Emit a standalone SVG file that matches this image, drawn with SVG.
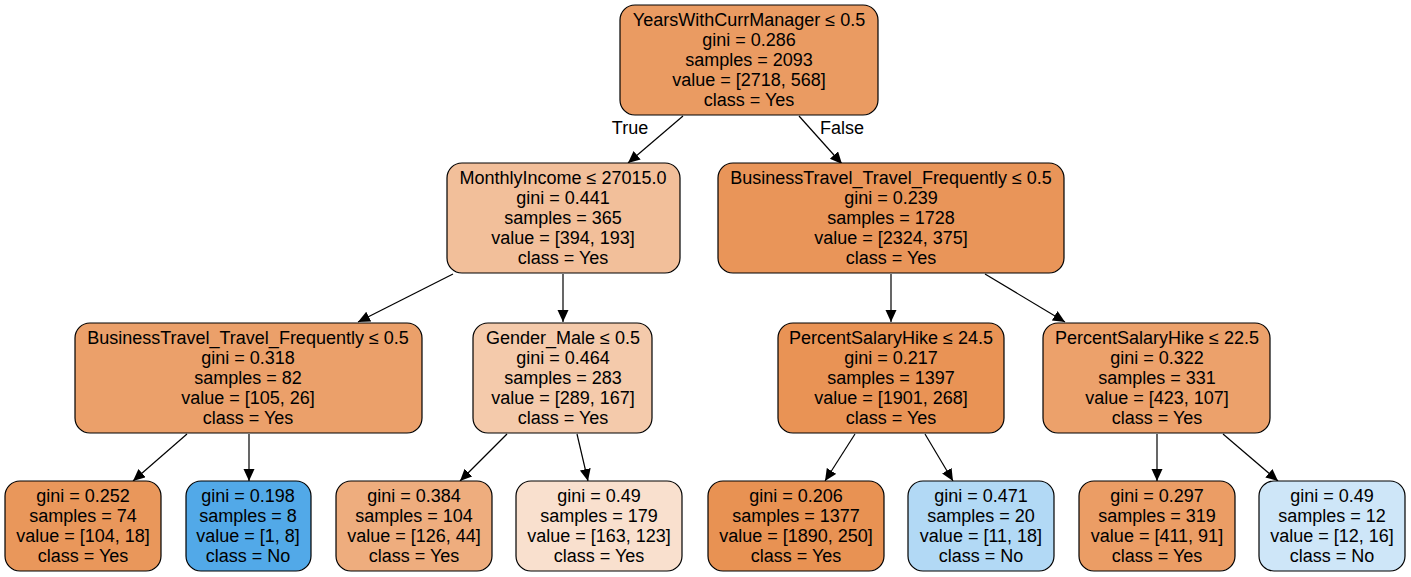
<svg xmlns="http://www.w3.org/2000/svg" width="1411" height="577" viewBox="0 0 1411 577">
<style>
.n rect{stroke:#000;stroke-width:1.2}
text{font-family:"Liberation Sans",Arial,sans-serif;font-size:18px;fill:#000;text-anchor:middle}
.e line{stroke:#000;stroke-width:1.2}
</style>
<defs>
<marker id="ah" markerUnits="userSpaceOnUse" markerWidth="14" markerHeight="12" refX="12" refY="5.5" orient="auto">
<path d="M0,0 L12,5.5 L0,11 Z" fill="#000"/>
</marker>
</defs>
<rect width="1411" height="577" fill="#fff"/>
<g id="edges" class="e">
<line x1="683" y1="116" x2="628" y2="163" marker-end="url(#ah)"/>
<line x1="799" y1="116" x2="842" y2="164" marker-end="url(#ah)"/>
<line x1="453" y1="274" x2="358" y2="322" marker-end="url(#ah)"/>
<line x1="563" y1="274" x2="563" y2="322" marker-end="url(#ah)"/>
<line x1="891" y1="274" x2="891" y2="322" marker-end="url(#ah)"/>
<line x1="985" y1="274" x2="1065" y2="322" marker-end="url(#ah)"/>
<line x1="187" y1="434" x2="133" y2="481" marker-end="url(#ah)"/>
<line x1="249" y1="434" x2="249" y2="481" marker-end="url(#ah)"/>
<line x1="507" y1="434" x2="460" y2="481" marker-end="url(#ah)"/>
<line x1="577" y1="434" x2="588" y2="481" marker-end="url(#ah)"/>
<line x1="855" y1="434" x2="825" y2="481" marker-end="url(#ah)"/>
<line x1="925" y1="434" x2="953" y2="481" marker-end="url(#ah)"/>
<line x1="1157" y1="434" x2="1157" y2="481" marker-end="url(#ah)"/>
<line x1="1223" y1="434" x2="1278" y2="481" marker-end="url(#ah)"/>
<text x="630" y="134">True</text>
<text x="842" y="134">False</text>
</g>
<g id="n0" class="n"><rect x="620" y="5" width="258" height="110" rx="15" fill="#ea9b62"/>
<text x="749" y="26">YearsWithCurrManager ≤ 0.5</text><text x="749" y="46">gini = 0.286</text><text x="749" y="66">samples = 2093</text><text x="749" y="86">value = [2718, 568]</text><text x="749" y="106">class = Yes</text></g>
<g id="n1" class="n"><rect x="447" y="163" width="233" height="110" rx="15" fill="#f2bf9a"/>
<text x="563" y="184">MonthlyIncome ≤ 27015.0</text><text x="563" y="204">gini = 0.441</text><text x="563" y="224">samples = 365</text><text x="563" y="244">value = [394, 193]</text><text x="563" y="264">class = Yes</text></g>
<g id="n8" class="n"><rect x="718" y="163" width="346" height="110" rx="15" fill="#e99559"/>
<text x="891" y="184">BusinessTravel_Travel_Frequently ≤ 0.5</text><text x="891" y="204">gini = 0.239</text><text x="891" y="224">samples = 1728</text><text x="891" y="244">value = [2324, 375]</text><text x="891" y="264">class = Yes</text></g>
<g id="n2" class="n"><rect x="75" y="323" width="347" height="110" rx="15" fill="#eba06a"/>
<text x="248" y="344">BusinessTravel_Travel_Frequently ≤ 0.5</text><text x="248" y="364">gini = 0.318</text><text x="248" y="384">samples = 82</text><text x="248" y="404">value = [105, 26]</text><text x="248" y="424">class = Yes</text></g>
<g id="n5" class="n"><rect x="473" y="323" width="179" height="110" rx="15" fill="#f4caab"/>
<text x="563" y="344">Gender_Male ≤ 0.5</text><text x="563" y="364">gini = 0.464</text><text x="563" y="384">samples = 283</text><text x="563" y="404">value = [289, 167]</text><text x="563" y="424">class = Yes</text></g>
<g id="n9" class="n"><rect x="778" y="323" width="226" height="110" rx="15" fill="#e99355"/>
<text x="891" y="344">PercentSalaryHike ≤ 24.5</text><text x="891" y="364">gini = 0.217</text><text x="891" y="384">samples = 1397</text><text x="891" y="404">value = [1901, 268]</text><text x="891" y="424">class = Yes</text></g>
<g id="n12" class="n"><rect x="1043" y="323" width="227" height="110" rx="15" fill="#eca16b"/>
<text x="1157" y="344">PercentSalaryHike ≤ 22.5</text><text x="1157" y="364">gini = 0.322</text><text x="1157" y="384">samples = 331</text><text x="1157" y="404">value = [423, 107]</text><text x="1157" y="424">class = Yes</text></g>
<g id="n3" class="n"><rect x="5" y="481" width="156" height="90" rx="15" fill="#e9975b"/>
<text x="83" y="502">gini = 0.252</text><text x="83" y="522">samples = 74</text><text x="83" y="542">value = [104, 18]</text><text x="83" y="562">class = Yes</text></g>
<g id="n4" class="n"><rect x="186" y="481" width="125" height="90" rx="15" fill="#52a9e8"/>
<text x="248" y="502">gini = 0.198</text><text x="248" y="522">samples = 8</text><text x="248" y="542">value = [1, 8]</text><text x="248" y="562">class = No</text></g>
<g id="n6" class="n"><rect x="336" y="481" width="156" height="90" rx="15" fill="#eead7e"/>
<text x="414" y="502">gini = 0.384</text><text x="414" y="522">samples = 104</text><text x="414" y="542">value = [126, 44]</text><text x="414" y="562">class = Yes</text></g>
<g id="n7" class="n"><rect x="516" y="481" width="166" height="90" rx="15" fill="#f9e0ce"/>
<text x="599" y="502">gini = 0.49</text><text x="599" y="522">samples = 179</text><text x="599" y="542">value = [163, 123]</text><text x="599" y="562">class = Yes</text></g>
<g id="n10" class="n"><rect x="708" y="481" width="176" height="90" rx="15" fill="#e89253"/>
<text x="796" y="502">gini = 0.206</text><text x="796" y="522">samples = 1377</text><text x="796" y="542">value = [1890, 250]</text><text x="796" y="562">class = Yes</text></g>
<g id="n11" class="n"><rect x="908" y="481" width="146" height="90" rx="15" fill="#b2d9f5"/>
<text x="981" y="502">gini = 0.471</text><text x="981" y="522">samples = 20</text><text x="981" y="542">value = [11, 18]</text><text x="981" y="562">class = No</text></g>
<g id="n13" class="n"><rect x="1079" y="481" width="156" height="90" rx="15" fill="#eb9d65"/>
<text x="1157" y="502">gini = 0.297</text><text x="1157" y="522">samples = 319</text><text x="1157" y="542">value = [411, 91]</text><text x="1157" y="562">class = Yes</text></g>
<g id="n14" class="n"><rect x="1259" y="481" width="146" height="90" rx="15" fill="#cee6f8"/>
<text x="1332" y="502">gini = 0.49</text><text x="1332" y="522">samples = 12</text><text x="1332" y="542">value = [12, 16]</text><text x="1332" y="562">class = No</text></g>
</svg>
